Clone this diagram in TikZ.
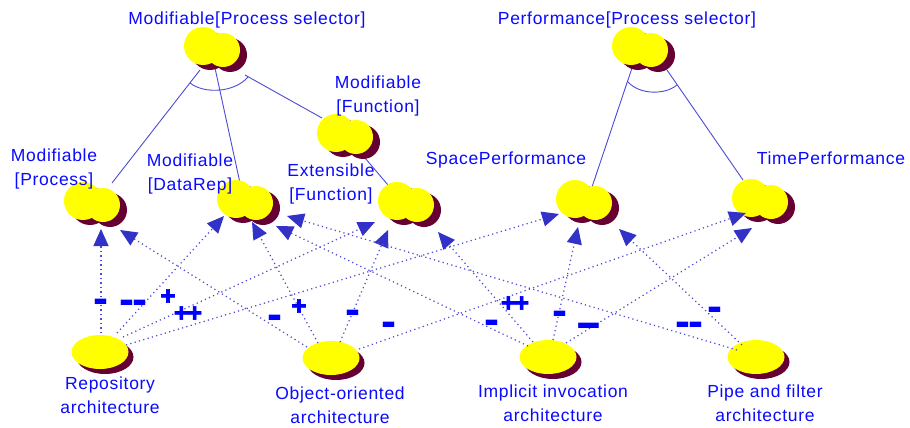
\documentclass[tikz,border=0pt]{standalone}
\usepackage{fontspec}
\setmainfont{Liberation Sans}
\newfontfamily\goalfont{Liberation Sans}[LetterSpace=4]
\newfontfamily\signfont{Liberation Sans}[FakeBold=2.5]
\usepackage{graphicx}
\usetikzlibrary{calc,arrows.meta}

\definecolor{goalyellow}{RGB}{255,255,0}
\definecolor{goalshade}{RGB}{102,0,51}
\definecolor{labelblue}{RGB}{10,10,255}
\definecolor{linkblue}{RGB}{75,75,215}
\definecolor{tipblue}{RGB}{50,50,200}
\definecolor{signblue}{RGB}{0,0,255}

\begin{document}
\begin{tikzpicture}[x=1pt,y=-1pt,
  goalspot/.style={inner sep=0pt, minimum width=56pt, minimum height=40pt},
  archspot/.style={inner sep=0pt, minimum width=56pt, minimum height=33pt},
  goaltext/.style={text=labelblue, font=\goalfont\fontsize{17.5}{24}\selectfont, align=center, inner sep=0pt},
  decomp/.style={linkblue, line width=0.9pt},
  contrib/.style={linkblue, line width=1.25pt, dash pattern=on 1.2pt off 3.3pt,
    -{Triangle[length=17pt,width=15pt,color=tipblue]}},
  sign/.style={text=signblue, inner sep=0pt, font=\signfont\bfseries\fontsize{26}{26}\selectfont},
  bar/.style={text=signblue, inner sep=0pt, font=\bfseries\fontsize{45}{45}\selectfont, yshift=-4.4pt},
]
\fill[white] (0,0) rectangle (910,428);
\useasboundingbox (0,0) rectangle (910,428);

% softgoals
\node[goalspot] (MPS) at (212,47) {};
\node[goalspot] (PPS) at (640,47) {};
\node[goalspot] (MF)  at (345,134) {};
\node[goalspot] (MP)  at (92,202) {};
\node[goalspot] (MD)  at (245,200) {};
\node[goalspot] (EF)  at (406,202) {};
\node[goalspot] (SP)  at (584,200) {};
\node[goalspot] (TP)  at (760,199) {};
% architectures
\node[archspot] (Rep) at (100,352) {};
\node[archspot] (OO)  at (331,358) {};
\node[archspot] (II)  at (548,357) {};
\node[archspot] (PF)  at (756,357) {};

% AND decompositions
\draw[decomp] ($(MPS)+(-12,23)$) -- ($(MP)+(20,-19)$);
\draw[decomp] ($(MPS)+(3,21)$) -- ($(MD)+(-5,-17)$);
\draw[decomp] ($(MPS)+(33,28)$) -- ($(MF)+(-23,-16)$);
\draw[decomp] ($(MF)+(20,24)$) -- ($(EF)+(-18,-17)$);
\draw[decomp] ($(PPS)+(-8,21)$) -- ($(SP)+(8,-13)$);
\draw[decomp] ($(PPS)+(27,23)$) -- ($(TP)+(-17,-19)$);
\draw[decomp] ($(MPS)+(-22,36)$) .. controls ($(MPS)+(-8,47)$) and ($(MPS)+(22,46)$) .. ($(MPS)+(36,30)$);
\draw[decomp] ($(PPS)+(-12,35)$) .. controls ($(PPS)+(0,48)$) and ($(PPS)+(25,48)$) .. ($(PPS)+(37,38)$);

% cloud bodies
\foreach \g in {MPS,PPS,MF,MP,MD,EF,SP,TP}{
  \fill[goalshade] ($(\g)+(-2,4)$) circle[radius=19] ($(\g)+(18,8)$) circle[radius=17];
  \fill[goalyellow] ($(\g)+(-9,-1)$) circle[radius=19] ($(\g)+(11,3)$) circle[radius=17];
}
\foreach \a in {Rep,OO,II,PF}{
  \fill[goalshade] ($(\a)+(5,5)$) ellipse[x radius=28.5, y radius=17];
  \fill[goalyellow] (\a) ellipse[x radius=28.5, y radius=17];
}

% texts
\node[goaltext] (tMPS) at (247,20) {Modifiable[Process selector]};
\node[goaltext] (tPPS) at (627,20) {Performance[Process selector]};
\node[goaltext] (tMF)  at (378,96) {Modifiable\\{}[Function]};
\node[goaltext] (tMP)  at (54,169) {Modifiable\\{}[Process]};
\node[goaltext] (tMD)  at (190,174) {Modifiable\\{}[DataRep]};
\node[goaltext] (tEF)  at (331,184) {Extensible\\{}[Function]};
\node[goaltext] (tSP)  at (506,160) {SpacePerformance};
\node[goaltext] (tTP)  at (831,158) {TimePerformance};
\node[goaltext] (tRep) at (110,395) {Repository\\architecture};
\node[goaltext] (tOO)  at (340,405) {Object-oriented\\architecture};
\node[goaltext] (tII)  at (553,403) {Implicit invocation\\architecture};
\node[goaltext] (tPF)  at (765,403) {Pipe and filter\\architecture};

% contributions
\draw[contrib] ($(Rep)+(1,-19)$) -- ($(MP)+(9,27)$);
\draw[contrib] ($(Rep)+(17,-19)$) -- ($(MD)+(-21,16)$);
\draw[contrib] ($(Rep)+(23,-15)$) -- ($(EF)+(-31,20)$);
\draw[contrib] ($(Rep)+(26,-7)$) -- ($(SP)+(-25,14)$);
\draw[contrib] ($(OO)+(-24,-11)$) -- ($(MP)+(28,28)$);
\draw[contrib] ($(OO)+(-13,-15)$) -- ($(MD)+(7,22)$);
\draw[contrib] ($(OO)+(9,-16)$) -- ($(EF)+(-18,28)$);
\draw[contrib] ($(OO)+(28,-9)$) -- ($(TP)+(-14,14)$);
\draw[contrib] ($(II)+(-20,-11)$) -- ($(MD)+(31,26)$);
\draw[contrib] ($(II)+(-15,-15)$) -- ($(EF)+(32,30)$);
\draw[contrib] ($(II)+(5,-17)$) -- ($(SP)+(-6,27)$);
\draw[contrib] ($(II)+(18,-14)$) -- ($(TP)+(-8,29)$);
\draw[contrib] ($(PF)+(-19,-7)$) -- ($(MD)+(42,16)$);
\draw[contrib] ($(PF)+(-14,-12)$) -- ($(SP)+(35,29)$);

% contribution signs
\node[bar]  (s1)  at (101,302) {-};
\node[bar]  (s2)  at (133,303) {-\kern-2pt-};
\node[sign] (s3)  at (168,297) {+};
\node[sign] (s4)  at (188,314) {+\kern-2pt+};
\node[bar]  (s5)  at (275,318) {-};
\node[sign] (s6)  at (299,307) {+};
\node[bar]  (s7)  at (353,313) {-};
\node[bar]  (s8)  at (389,325) {-};
\node[sign] (s9)  at (515,304) {+\kern-2pt+};
\node[bar]  (s10) at (492,323) {-};
\node[bar]  (s11) at (560,314) {-};
\node[bar]  (s12) at (589,326) {\scalebox{1.8}[1]{-}};
\node[bar]  (s13) at (689,325) {-\kern-2pt-};
\node[bar]  (s14) at (715,310) {-};
\end{tikzpicture}
\end{document}
